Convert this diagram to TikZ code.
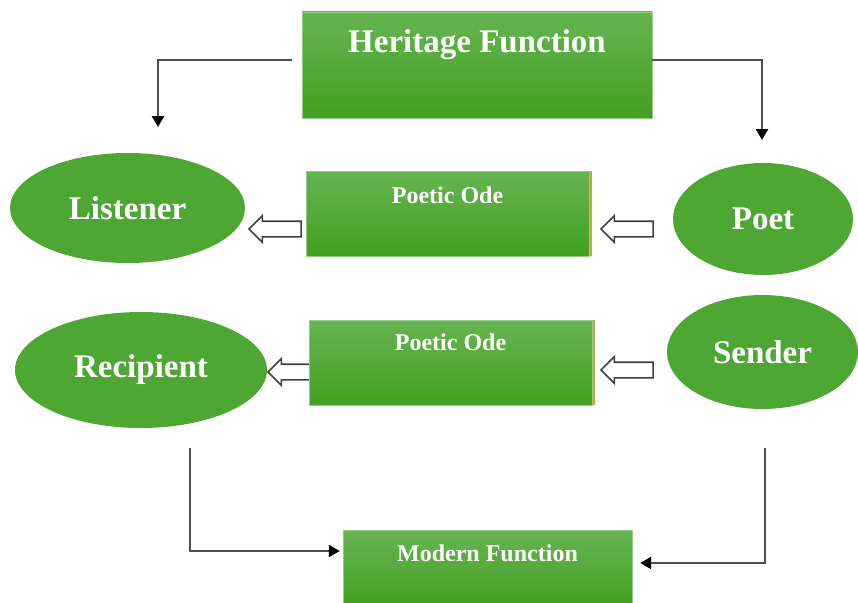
\documentclass[tikz,border=0pt]{standalone}
\usepackage{fontspec}
\setmainfont{Liberation Serif}
\usetikzlibrary{positioning, shapes.geometric, shapes.arrows, arrows.meta, calc, shadows}
\definecolor{boxtop}{HTML}{66B452}
\definecolor{boxbot}{HTML}{43A01F}
\definecolor{ovalgreen}{HTML}{4EA733}
\definecolor{linegray}{HTML}{505050}

\begin{document}
\begin{tikzpicture}[
                x=1pt, y=-1pt,
                link/.style={-{Triangle[length=11pt,width=12pt,black]}, line width=2.5pt, linegray},
                func_box/.style={rectangle, top color=boxtop, bottom color=boxbot, draw=boxtop!70!white, inner sep=0pt},
                ode_box/.style={func_box, drop shadow={shadow xshift=3pt, shadow yshift=0pt, fill=olive!85, opacity=0.8}},
                role_node/.style={ellipse, fill=ovalgreen, inner sep=0pt, text=white, font=\fontsize{33}{36}\selectfont\bfseries},
                big_text/.style={text=white, anchor=base, font=\fontsize{33}{36}\selectfont\bfseries},
                small_text/.style={text=white, anchor=base, font=\fontsize{24}{28}\selectfont\bfseries},
                hollow/.style={single arrow, shape border rotate=180, draw=gray!50!black, fill=white, line width=1.6pt,
                  minimum width=25pt, minimum height=52pt, inner sep=7pt, single arrow head extend=5.5pt}
            ]
                \useasboundingbox (0,0) rectangle (858,602);

                % Hollow arrows (drawn first, tails tuck under the boxes)
                \node[hollow] (poet_arr) at (631,229) {};
                \node[hollow] (ode_arr1) at (279,229) {};
                \node[hollow] (sender_arr) at (631,370) {};
                \node[hollow] (ode_arr2) at (298,372) {};

                % Heritage Function (top)
                \node[func_box, minimum width=350pt, minimum height=106pt] (heritage) at (477,65) {};
                \node[big_text] (heritage_t) at ([yshift=-41pt]heritage.north) {Heritage Function};

                % First row
                \node[role_node, minimum width=235pt, minimum height=110pt] (listener) at (127.5,208) {\raisebox{-3pt}{Listener}};
                \node[ode_box, minimum width=283pt, minimum height=85pt] (ode1) at (447.5,213.5) {};
                \node[small_text] (ode1_t) at ([yshift=-33pt]ode1.north) {Poetic Ode};
                \node[role_node, minimum width=180pt, minimum height=112pt] (poet) at (763,219) {Poet};

                % Second row
                \node[role_node, minimum width=252pt, minimum height=116pt] (recipient) at (141,370) {\raisebox{-3pt}{Recipient}};
                \node[ode_box, minimum width=283pt, minimum height=85pt] (ode2) at (450.5,362.5) {};
                \node[small_text] (ode2_t) at ([yshift=-31pt]ode2.north) {Poetic Ode};
                \node[role_node, minimum width=191pt, minimum height=114pt] (sender) at (762.5,352) {Sender};

                % Modern Function (bottom)
                \node[func_box, minimum width=289pt, minimum height=77pt] (modern) at (487.5,568.5) {};
                \node[small_text] (modern_t) at ([yshift=-32pt]modern.north) {Modern Function};

                % Connectors
                \coordinate (drop_l) at (158,127);
                \coordinate (drop_r) at (762,140);
                \coordinate (rise_l) at (190,448);
                \coordinate (rise_r) at (765,448);
                \draw[link] ([xshift=-10pt, yshift=5pt]heritage.west) -| (drop_l);
                \draw[link] ([yshift=5pt]heritage.east) -| (drop_r);
                \draw[link] (rise_l) |- ([xshift=-3pt, yshift=17.5pt]modern.west);
                \draw[link] (rise_r) |- ([xshift=8pt, yshift=5.5pt]modern.east);

            \end{tikzpicture}
\end{document}
